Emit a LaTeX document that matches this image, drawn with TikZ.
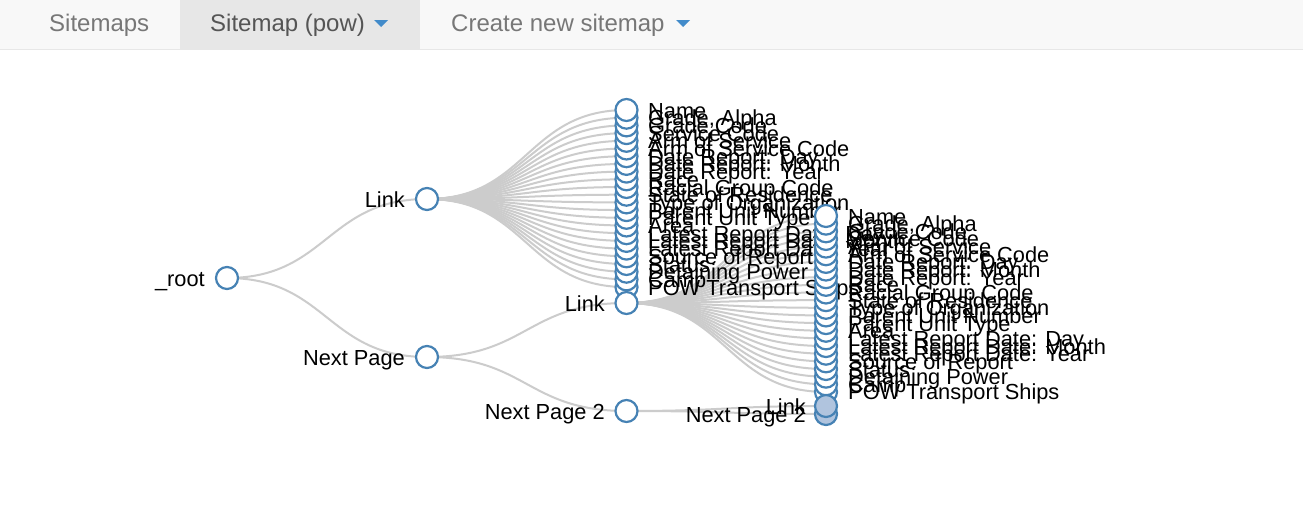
\documentclass[tikz,border=0pt]{standalone}
\usepackage{fontspec}
\setmainfont{Liberation Sans}
\usepackage{tikz}
\usetikzlibrary{backgrounds}
\definecolor{nodeblue}{RGB}{70,130,180}
\definecolor{nodefill}{RGB}{176,196,222}
\definecolor{linkgray}{RGB}{204,204,204}
\definecolor{navbg}{RGB}{248,248,248}
\definecolor{navborder}{RGB}{231,231,231}
\definecolor{navtext}{RGB}{119,119,119}
\definecolor{navactive}{RGB}{85,85,85}
\definecolor{caretblue}{RGB}{66,139,202}
\tikzset{treenode/.style={circle,draw=nodeblue,line width=2.2pt,fill=white,minimum size=22pt,inner sep=0pt,outer sep=0pt}}
\tikzset{closednode/.style={treenode,fill=nodefill}}
\tikzset{treelink/.style={draw=linkgray,line width=2pt}}
\tikzset{diag/.style={to path={.. controls +(100,0) and +(-100,0) .. (\tikztotarget)}}}
\tikzset{leftlabel/.style={anchor=base east,inner sep=0pt,font=\fontsize{21.8}{26}\selectfont}}
\tikzset{rightlabel/.style={anchor=base west,inner sep=0pt,font=\fontsize{21.8}{26}\selectfont}}
\tikzset{navlabel/.style={anchor=base west,inner sep=0pt,text=navtext,font=\fontsize{24}{28}\selectfont}}
\tikzset{caret/.style={fill=caretblue,draw=none}}

\begin{document}
\begin{tikzpicture}[x=1pt,y=-1pt]
  \useasboundingbox (0,0) rectangle (1303,522);
  % Navbar
  \fill[navbg] (0,0) rectangle (1303,49);
  \draw[navborder,line width=1.5pt] (0,49.5) -- (1303,49.5);
  \fill[navborder] (180,0) rectangle (420,48.5);
  \node[navlabel] (tabsitemaps) at (49,31) {Sitemaps};
  \node[navlabel,text=navactive] (tabpow) at (210,31) {Sitemap (pow)};
  \node[navlabel] (tabcreate) at (451,31) {Create new sitemap};
  \fill[caret] (374,20) -- (388,20) -- (381,27) -- cycle;
  \fill[caret] (676,20) -- (690,20) -- (683,27) -- cycle;

  % Root and first level
  \node[treenode] (root) at (227,278) {};
  \node[leftlabel] (troot) at (205,286) {\_root};
  \node[treenode] (link1) at (427,199) {};
  \node[leftlabel] (tlink1) at (405,207) {Link};
  \node[treenode] (next1) at (427,357) {};
  \node[leftlabel] (tnext1) at (405,365) {Next Page};

  % Second level
  \foreach \i in {23,...,0}
    \node[treenode] (a\i) at (626.5,{110+7.7*\i}) {};
  \node[treenode] (link2) at (626.5,303) {};
  \node[leftlabel] (tlink2) at (605,311) {Link};
  \node[treenode] (next2) at (626.5,411) {};
  \node[leftlabel] (tnext2) at (605,419) {Next Page 2};
  \foreach \lbl [count=\i from 0] in {Name,{Grade, Alpha},Grade Code,Service Code,Arm of Service,Arm of Service Code,Date Report: Day,Date Report: Month,Date Report: Year,Race,Racial Group Code,State of Residence,Type of Organization,Parent Unit Number,Parent Unit Type,Area,Latest Report Date: Day,Latest Report Date: Month,Latest Report Date: Year,Source of Report,Status,Detaining Power,Camp,POW Transport Ships}
    \node[rightlabel] (ta\i) at (648,{118+7.7*\i}) {\lbl};

  % Third level
  \foreach \i in {23,...,0}
    \node[treenode] (b\i) at (826,{216+7.65*\i}) {};
  \node[closednode] (next3) at (826,414) {};
  \node[closednode] (link3) at (826,406) {};
  \node[leftlabel] (tlink3) at (806,414) {Link};
  \node[leftlabel] (tnext3) at (806,422) {Next Page 2};
  \foreach \lbl [count=\i from 0] in {Name,{Grade, Alpha},Grade Code,Service Code,Arm of Service,Arm of Service Code,Date Report: Day,Date Report: Month,Date Report: Year,Race,Racial Group Code,State of Residence,Type of Organization,Parent Unit Number,Parent Unit Type,Area,Latest Report Date: Day,Latest Report Date: Month,Latest Report Date: Year,Source of Report,Status,Detaining Power,Camp,POW Transport Ships}
    \node[rightlabel] (tb\i) at (848,{224+7.65*\i}) {\lbl};

  % Links
  \begin{pgfonlayer}{background}
    \fill[white] (0,50.5) rectangle (1303,522);
    \draw[treelink] (root.center) to[diag] (link1.center);
    \draw[treelink] (root.center) to[diag] (next1.center);
    \draw[treelink] (next1.center) to[diag] (link2.center);
    \draw[treelink] (next1.center) to[diag] (next2.center);
    \draw[treelink] (next2.center) to[diag] (link3.center);
    \draw[treelink] (next2.center) to[diag] (next3.center);
    \foreach \i in {0,...,23}
    {
      \draw[treelink] (link1.center) to[diag] (a\i.center);
      \draw[treelink] (link2.center) to[diag] (b\i.center);
    }
  \end{pgfonlayer}
\end{tikzpicture}
\end{document}
